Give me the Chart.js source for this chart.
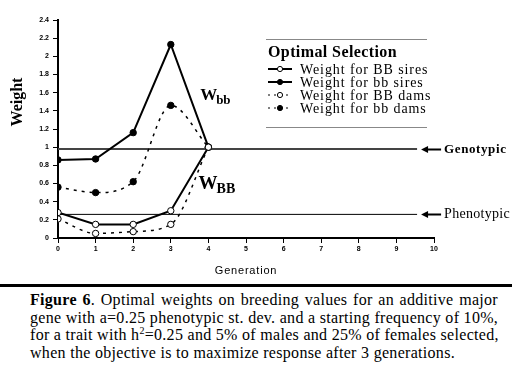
<!DOCTYPE html>
<html>
<head>
<meta charset="utf-8">
<script src="https://cdn.jsdelivr.net/npm/chart.js@4"></script>
<style>
  html, body { margin: 0; padding: 0; background: #fff; }
  body { width: 512px; height: 384px; position: relative; overflow: hidden; }
  #wrap { position: absolute; left: 0; top: 0; width: 512px; height: 280px; }
  #rule { position: absolute; left: 0; top: 284px; width: 512px; height: 3px; background: #000; }
  #caption {
    position: absolute; left: 30px; top: 291px; width: 468px;
    font-family: "Liberation Serif", "Times New Roman", serif;
    font-size: 16px; letter-spacing: 0.3px; line-height: 17.5px; color: #000; white-space: nowrap;
  }
  #caption .j { text-align: justify; text-align-last: justify; }
</style>
</head>
<body>
<div id="wrap"><canvas id="lineChart" width="512" height="280"></canvas></div>
<div id="rule"></div>
<div id="caption">
<div class="j"><b>Figure 6</b>. Optimal weights on breeding values for an additive major</div>
<div class="j">gene with a=0.25 phenotypic st. dev. and a starting frequency of 10%,</div>
<div class="j">for a trait with h<sup style="font-size:10px;line-height:0">2</sup>=0.25 and 5% of males and 25% of females selected,</div>
<div>when the objective is to maximize response after 3 generations.</div>
</div>
<script>
// generations on the x axis
const generations = [0, 1, 2, 3, 4];

// weights
const bbSires = [0.86, 0.87, 1.16, 2.13, 1.0];
const BBSires = [0.28, 0.15, 0.15, 0.30, 1.0];
const BBDams  = [0.21, 0.05, 0.07, 0.15, 1.0];
const bbDams  = [0.56, 0.50, 0.62, 1.46, 1.0];

// reference levels
const genotypic = 0.98;
const phenotypic = 0.26;
const refEnd = 9.55;

const yTicks = [0, 0.2, 0.4, 0.6, 0.8, 1, 1.2, 1.4, 1.6, 1.8, 2, 2.2, 2.4];
const xTicks = [0, 1, 2, 3, 4, 5, 6, 7, 8, 9, 10];

const serif = '"Liberation Serif", "Times New Roman", serif';
const sans = '"Liberation Sans", Arial, sans-serif';

const pts = arr => arr.map((v, i) => ({ x: generations[i], y: v }));

const series = [
    { label: 'Weight for BB sires', data: BBSires, dash: [], fill: '#fff' },
    { label: 'Weight for bb sires', data: bbSires, dash: [], fill: '#000' },
    { label: 'Weight for BB dams', data: BBDams, dash: [3, 5], fill: '#fff' },
    { label: 'Weight for bb dams', data: bbDams, dash: [3, 5], fill: '#000' }
];

const datasets = series.map(s => ({
    label: s.label,
    data: pts(s.data),
    borderColor: '#000',
    borderWidth: s.dash.length ? 1.5 : 2,
    borderDash: s.dash,
    tension: s.dash.length ? 0.4 : 0,
    cubicInterpolationMode: s.dash.length ? 'monotone' : 'default',
    pointRadius: 3.2,
    pointBorderWidth: 1,
    pointBackgroundColor: s.fill,
    pointBorderColor: '#000'
}));

datasets.push({
    label: 'Genotypic',
    data: [{ x: 0, y: genotypic }, { x: refEnd, y: genotypic }],
    borderColor: '#444', borderWidth: 2, pointRadius: 0
});
datasets.push({
    label: 'Phenotypic',
    data: [{ x: 0, y: phenotypic }, { x: refEnd, y: phenotypic }],
    borderColor: '#000', borderWidth: 1, pointRadius: 0
});

// annotations, legend, arrows and axis titles
const extras = {
    id: 'extras',
    afterDraw(chart) {
        const ctx = chart.ctx;
        const xs = chart.scales.x, ys = chart.scales.y;
        ctx.save();
        ctx.fillStyle = '#000';
        ctx.strokeStyle = '#000';
        ctx.textBaseline = 'alphabetic';

        // axis titles
        ctx.save();
        ctx.translate(18, 102);
        ctx.rotate(-Math.PI / 2);
        ctx.font = 'bold 16px ' + serif;
        ctx.textAlign = 'center';
        ctx.textBaseline = 'middle';
        ctx.fillText('Weight', 0, 0);
        ctx.restore();

        ctx.save();
        ctx.font = '11px ' + sans;
        ctx.letterSpacing = '0.8px';
        ctx.textAlign = 'center';
        ctx.textBaseline = 'middle';
        ctx.fillText('Generation', 246, 271);
        ctx.restore();

        // W labels
        const wLabel = (xv, yv, sub, size, subSize) => {
            const px = xs.getPixelForValue(xv), py = ys.getPixelForValue(yv);
            ctx.font = 'bold ' + size + 'px ' + serif;
            ctx.fillText('W', px, py);
            const w = ctx.measureText('W').width;
            ctx.font = 'bold ' + subSize + 'px ' + serif;
            ctx.fillText(sub, px + w - 1, py + 4);
        };
        wLabel(3.78, 1.52, 'bb', 17, 13);
        wLabel(3.74, 0.54, 'BB', 19, 14);

        // arrows + reference labels
        const arrow = (yv, text, font, spacing) => {
            const py = Math.round(ys.getPixelForValue(yv)) + 0.5;
            const x0 = xs.getPixelForValue(refEnd) + 4;
            ctx.beginPath();
            ctx.moveTo(x0, py);
            ctx.lineTo(x0 + 7, py - 3.5);
            ctx.lineTo(x0 + 7, py + 3.5);
            ctx.closePath();
            ctx.fill();
            ctx.lineWidth = 2;
            ctx.beginPath();
            ctx.moveTo(x0 + 6, py);
            ctx.lineTo(x0 + 20, py);
            ctx.stroke();
            ctx.save();
            ctx.font = font;
            ctx.letterSpacing = spacing;
            ctx.textBaseline = 'middle';
            ctx.fillText(text, x0 + 23, py);
            ctx.restore();
        };
        arrow(genotypic, 'Genotypic', 'bold 13px ' + serif, '0.6px');
        arrow(phenotypic, 'Phenotypic', '14px ' + serif, '0.3px');

        // legend box
        const lx = 266, rx = 427;
        ctx.strokeStyle = '#888';
        ctx.lineWidth = 1;
        ctx.beginPath();
        ctx.moveTo(lx, 39.5); ctx.lineTo(rx, 39.5);
        ctx.moveTo(lx, 127.5); ctx.lineTo(rx, 127.5);
        ctx.stroke();
        ctx.save();
        ctx.font = 'bold 16px ' + serif;
        ctx.letterSpacing = '0.4px';
        ctx.fillText('Optimal Selection', 268, 57);
        ctx.restore();
        series.forEach((s, i) => {
            const y = 69 + i * 13;
            ctx.strokeStyle = '#000';
            ctx.lineWidth = s.dash.length ? 1 : 2;
            ctx.setLineDash(s.dash.length ? [2, 4] : []);
            ctx.beginPath();
            ctx.moveTo(268, y); ctx.lineTo(292, y);
            ctx.stroke();
            ctx.setLineDash([]);
            ctx.fillStyle = s.fill;
            ctx.beginPath();
            ctx.arc(280, y, 2.6, 0, Math.PI * 2);
            ctx.fill();
            ctx.lineWidth = 1;
            ctx.stroke();
            ctx.save();
            ctx.fillStyle = '#000';
            ctx.font = '14px ' + serif;
            ctx.letterSpacing = '0.9px';
            ctx.textBaseline = 'middle';
            ctx.fillText(s.label, 300, y + 1);
            ctx.restore();
        });
        ctx.restore();
    }
};

const ctx = document.getElementById('lineChart').getContext('2d');
new Chart(ctx, {
    type: 'line',
    data: { datasets: datasets },
    plugins: [extras],
    options: {
        responsive: false,
        animation: false,
        layout: { padding: { top: 20, right: 78, left: 0, bottom: 0 } },
        plugins: { legend: { display: false }, tooltip: { enabled: false } },
        scales: {
            x: {
                type: 'linear', min: 0, max: 10,
                afterBuildTicks: s => { s.ticks = xTicks.map(v => ({ value: v })); },
                afterFit: s => { s.height = 42; },
                border: { color: '#000', width: 2 },
                grid: { drawOnChartArea: false, tickLength: 5, color: '#000', tickWidth: 1 },
                ticks: { color: '#000', font: { family: sans, size: 7, weight: 'bold' }, padding: 2, maxRotation: 0 }
            },
            y: {
                type: 'linear', min: 0, max: 2.4,
                afterBuildTicks: s => { s.ticks = yTicks.map(v => ({ value: v })); },
                afterFit: s => { s.width = 58; },
                border: { color: '#000', width: 2 },
                grid: { drawOnChartArea: false, tickLength: 5, color: '#000', tickWidth: 1 },
                ticks: { color: '#000', font: { family: sans, size: 7, weight: 'bold' }, padding: 4, callback: v => String(Math.round(v * 10) / 10) }
            }
        }
    }
});
</script>
</body>
</html>
